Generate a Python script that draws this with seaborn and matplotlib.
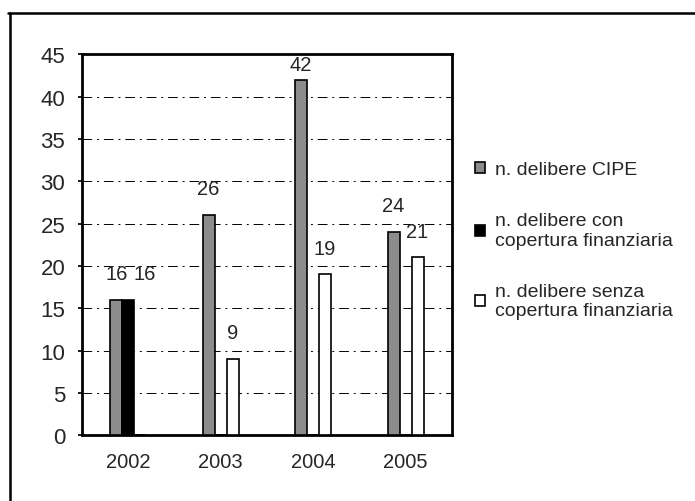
import numpy as np
import pandas as pd
import seaborn as sns
import matplotlib.pyplot as plt
from matplotlib.lines import Line2D

years = ['2002', '2003', '2004', '2005']
series_names = ['n. delibere CIPE',
                'n. delibere con\ncopertura finanziaria',
                'n. delibere senza\ncopertura finanziaria']
cipe = [16, 26, 42, 24]
con_copertura = [16, 0, 0, 0]
senza_copertura = [0, 9, 19, 21]

sns.set_theme(style='white')
plt.rcParams['font.family'] = ['Liberation Sans', 'DejaVu Sans']

df = pd.DataFrame({
    'anno': years * 3,
    'serie': [series_names[0]] * 4 + [series_names[1]] * 4 + [series_names[2]] * 4,
    'valore': cipe + con_copertura + senza_copertura,
})

fig = plt.figure(figsize=(6.95, 5.02), dpi=100)
ax = fig.add_axes([0.118, 0.131, 0.532, 0.759])

sns.barplot(data=df, x='anno', y='valore', hue='serie', hue_order=series_names,
            palette=['#8c8c8c', 'black', 'white'], edgecolor='black', linewidth=1.2,
            width=0.39, ax=ax, zorder=3)

# value labels, skip the empty bars
for k, cont in enumerate(ax.containers):
    vals = [b.get_height() for b in cont]
    anns = ax.bar_label(cont, labels=[str(int(v)) if v > 0 else '' for v in vals],
                        padding=12, fontsize=14.5)
    for v, a in zip(vals, anns):
        if v > 40:
            a.xyann = (0, 4)   # no room above the tallest bar
        if k == 1 and v > 0:
            a.xyann = (12, 12)  # the second "16" is pushed to the right

# dash-dot grid like the scanned original
for y in range(5, 45, 5):
    ax.axhline(y, color='black', lw=0.7, linestyle=(0, (10, 5, 2, 5)), zorder=1)

ax.set_ylim(0, 45)
ax.set_xlim(-0.5, 3.5)
ax.set_yticks(range(0, 50, 5))
ax.set_xlabel('')
ax.set_ylabel('')
ax.tick_params(axis='y', labelsize=16, length=3, pad=9, left=True, color='black')
ax.tick_params(axis='x', labelsize=14.5, length=0, pad=12)
for s in ax.spines.values():
    s.set_visible(True)
    s.set_color('black')
    s.set_linewidth(2)

handles, labels = ax.get_legend_handles_labels()
ax.get_legend().remove()
fig.legend(handles, labels, loc='upper left', bbox_to_anchor=(0.684, 0.677),
           frameon=False, fontsize=14, handlelength=0.5, handleheight=0.5,
           handletextpad=0.5, labelspacing=1.75, borderaxespad=0, borderpad=0)

# outer frame of the scanned chart
fig.add_artist(Line2D([0.014, 0.014], [0.0, 0.972], color='black', lw=1.8))
fig.add_artist(Line2D([0.012, 1.0], [0.972, 0.972], color='black', lw=1.8))

fig.savefig('out.png', dpi=100)
